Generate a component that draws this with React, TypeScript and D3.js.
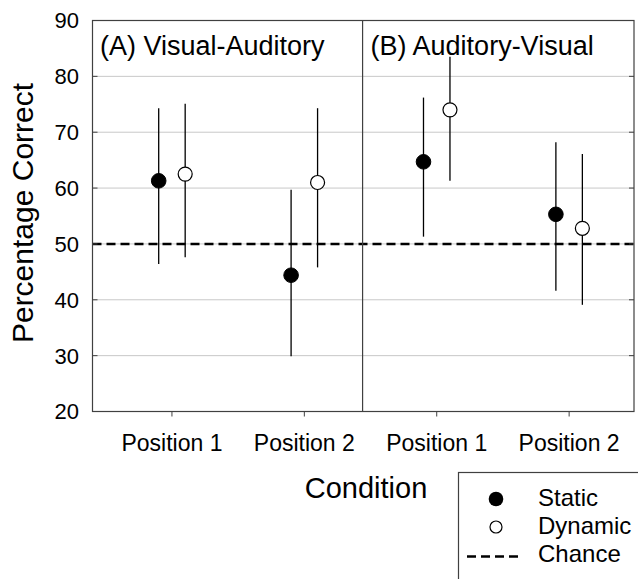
import React from "react";
import * as d3 from "d3";

const categories = ["Position 1", "Position 2", "Position 1", "Position 2"];
const panelTitles = ["(A) Visual-Auditory", "(B) Auditory-Visual"];
const staticMean = [61.3, 44.4, 64.7, 55.3];
const staticHigh = [74.3, 59.7, 76.2, 68.2];
const staticLow = [46.4, 29.9, 51.3, 41.6];
const dynamicMean = [62.5, 61.0, 74.0, 52.8];
const dynamicHigh = [75.1, 74.3, 83.5, 66.1];
const dynamicLow = [47.6, 45.8, 61.3, 39.1];
const yTicks = [20, 30, 40, 50, 60, 70, 80, 90];
const gridValues = [30, 40, 50, 60, 70, 80];
const chance = 50;
const legendItems = ["Static", "Dynamic", "Chance"];

const W = 638;
const H = 579;
const FONT = "'Liberation Sans', Arial, sans-serif";

export default function App() {
  const x = d3.scaleLinear().domain([0.4, 4.49]).range([92.5, 634]);
  const y = d3.scaleLinear().domain([20, 90]).range([411.5, 20.5]);
  const divider = x(2.44);
  const off = 0.1;
  const frame = "#404040";
  const left = x.range()[0];
  const right = x.range()[1];
  const top = y(90);
  const bottom = y(20);

  return (
    <svg
      width={W}
      height={H}
      style={{ position: "absolute", left: 0, top: 0 }}
      fontFamily={FONT}
    >
      <rect x={0} y={0} width={W} height={H} fill="#fff" />
      {/* gridlines */}
      {gridValues.map((v) => (
        <line key={"g" + v} x1={left} x2={right} y1={y(v)} y2={y(v)} stroke="#c8c8c8" strokeWidth={1} />
      ))}
      {/* chance line */}
      <line
        x1={left}
        x2={right}
        y1={y(chance)}
        y2={y(chance)}
        stroke="#000"
        strokeWidth={2.6}
        strokeDasharray="9,5"
      />
      {/* frame */}
      <rect x={left} y={top} width={right - left} height={bottom - top} fill="none" stroke={frame} strokeWidth={1.2} />
      <line x1={divider} x2={divider} y1={top} y2={bottom} stroke={frame} strokeWidth={1.2} />
      {/* y ticks inward */}
      {yTicks.map((v) => (
        <g key={"yt" + v}>
          <line x1={left} x2={left + 5} y1={y(v)} y2={y(v)} stroke={frame} strokeWidth={1} />
          <line x1={right} x2={right - 5} y1={y(v)} y2={y(v)} stroke={frame} strokeWidth={1} />
          <text x={79} y={y(v)} dy="0.36em" textAnchor="end" fontSize={22} fill="#000">
            {v}
          </text>
        </g>
      ))}
      {/* x ticks */}
      {categories.map((c, i) => (
        <g key={"xt" + i}>
          <line x1={x(i + 1)} x2={x(i + 1)} y1={bottom} y2={bottom + 5} stroke={frame} strokeWidth={1} />
          <text x={x(i + 1)} y={451} textAnchor="middle" fontSize={23} fill="#000">
            {c}
          </text>
        </g>
      ))}
      {/* panel titles */}
      <text x={left + 7.5} y={55} fontSize={27} fill="#000">
        {panelTitles[0]}
      </text>
      <text x={divider + 8} y={55} fontSize={27} fill="#000">
        {panelTitles[1]}
      </text>
      {/* error bars and points */}
      {categories.map((c, i) => (
        <g key={"p" + i}>
          <line x1={x(i + 1 - off)} x2={x(i + 1 - off)} y1={y(staticHigh[i])} y2={y(staticLow[i])} stroke="#000" strokeWidth={1.3} />
          <line x1={x(i + 1 + off)} x2={x(i + 1 + off)} y1={y(dynamicHigh[i])} y2={y(dynamicLow[i])} stroke="#000" strokeWidth={1.3} />
          <circle cx={x(i + 1 - off)} cy={y(staticMean[i])} r={7.3} fill="#000" stroke="#000" strokeWidth={1} />
          <circle cx={x(i + 1 + off)} cy={y(dynamicMean[i])} r={7} fill="#fff" stroke="#000" strokeWidth={1.2} />
        </g>
      ))}
      {/* axis titles */}
      <text
        transform={`translate(32.5,213) rotate(-90)`}
        textAnchor="middle"
        fontSize={30}
        fill="#000"
      >
        Percentage Correct
      </text>
      <text x={366} y={498} textAnchor="middle" fontSize={29} fill="#000">
        Condition
      </text>
      {/* legend */}
      <rect x={458.5} y={472.5} width={200} height={140} fill="#fff" stroke={frame} strokeWidth={1.2} />
      <circle cx={496} cy={499} r={7.3} fill="#000" />
      <circle cx={496} cy={527} r={6} fill="#fff" stroke="#000" strokeWidth={1.2} />
      <line x1={467} x2={518} y1={556.5} y2={556.5} stroke="#000" strokeWidth={2.6} strokeDasharray="9,5" />
      {legendItems.map((t, i) => (
        <text key={t} x={538} y={506 + i * 28} fontSize={24} fill="#000">
          {t}
        </text>
      ))}
    </svg>
  );
}
